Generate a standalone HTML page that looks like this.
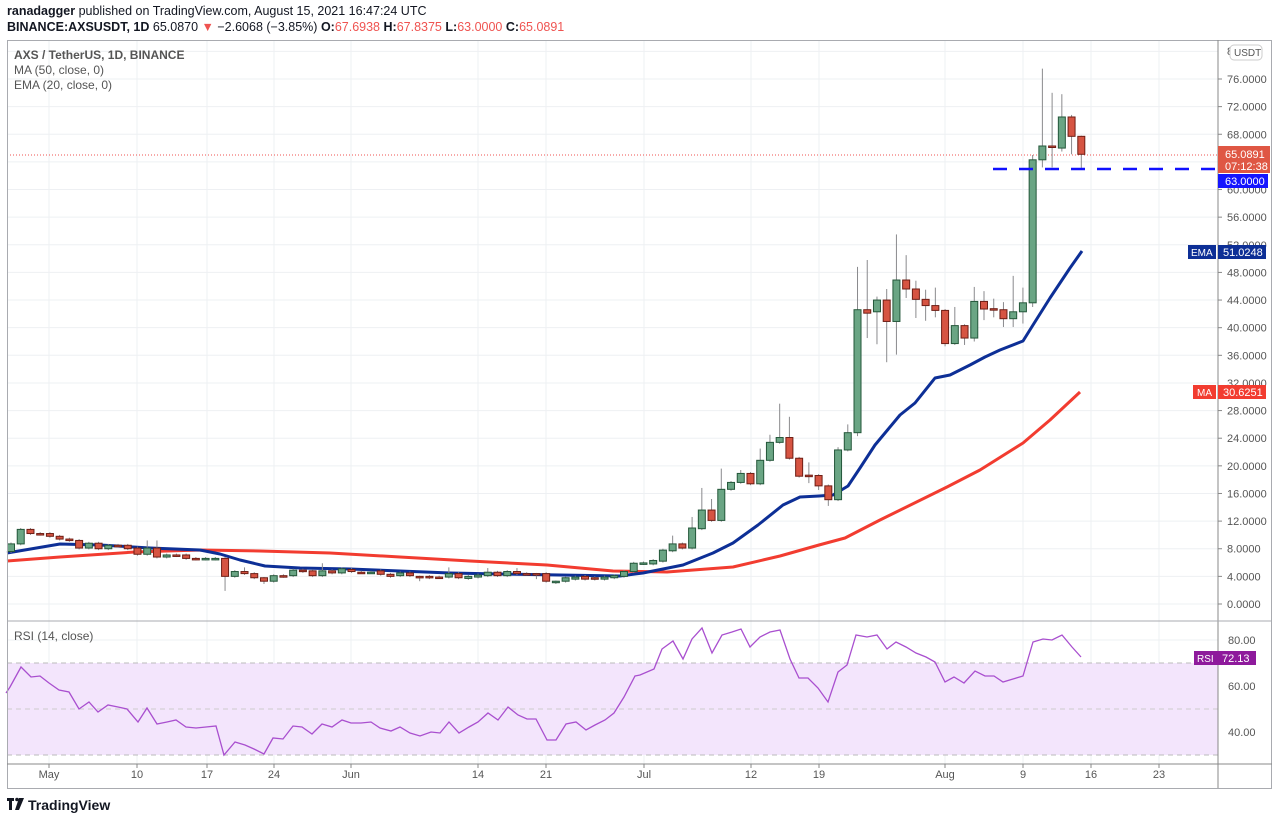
<!DOCTYPE html>
<html><head><meta charset="utf-8">
<style>
body{margin:0;background:#fff;width:1280px;height:822px;overflow:hidden;font-family:"Liberation Sans",sans-serif;}
.h1{position:absolute;left:7px;top:4px;font-size:12.5px;color:#131722;}
.h2{position:absolute;left:7px;top:20px;font-size:12.5px;color:#131722;}
svg{position:absolute;left:0;top:0;}
</style></head><body>
<div class="h1"><b>ranadagger</b> published on TradingView.com, August 15, 2021 16:47:24 UTC</div>
<div class="h2"><b>BINANCE:AXSUSDT, 1D</b> 65.0870 <span style="color:#ef5350">▼</span> −2.6068 (−3.85%) <b>O:</b><span style="color:#ef5350">67.6938</span> <b>H:</b><span style="color:#ef5350">67.8375</span> <b>L:</b><span style="color:#ef5350">63.0000</span> <b>C:</b><span style="color:#ef5350">65.0891</span></div>
<svg id="s" width="1280" height="822" xmlns="http://www.w3.org/2000/svg" font-family="Liberation Sans, sans-serif"></svg>
<script>
var S=document.getElementById('s'),h='';
function Y(p){return 604-6.908*p;}
function R(r){return 824-2.3*r;}
var vx=[49,137,207,274,351,478,546,644,751,819,945,1023,1091,1159];
vx.forEach(function(x){h+='<line x1="'+x+'" y1="40" x2="'+x+'" y2="764" stroke="#eef0f3" stroke-width="1"/>';});
for(var p=0;p<=80;p+=4){h+='<line x1="7" y1="'+Y(p)+'" x2="1218" y2="'+Y(p)+'" stroke="#eef0f3"/>';}
[40,60,80].forEach(function(r){h+='<line x1="7" y1="'+R(r)+'" x2="1218" y2="'+R(r)+'" stroke="#eef0f3"/>';});
h+='<rect x="7" y="663" width="1211" height="92" fill="#f3e5fc"/>';
h+='<line x1="7" y1="663" x2="1218" y2="663" stroke="#bbb" stroke-dasharray="5,4"/>';
h+='<line x1="7" y1="709" x2="1218" y2="709" stroke="#ccc" stroke-dasharray="5,4"/>';
h+='<line x1="7" y1="755" x2="1218" y2="755" stroke="#bbb" stroke-dasharray="5,4"/>';
h+='<line x1="7" y1="155" x2="1218" y2="155" stroke="#ef5350" stroke-dasharray="1,2"/>';
var ma=[[7,561],[60,557],[135,552],[200,550],[260,551],[330,553],[400,557],[470,561],[547,565],[613,571],[667,572],[733,567],[780,556],[819,545],[845,538],[880,520],[947,487],[980,470],[1023,443],[1050,420],[1080,392]];
var ema=[[7,553],[60,544],[100,545],[150,548],[200,550],[220,554],[240,560],[265,566],[300,568],[350,569],[400,571],[450,573],[500,574],[560,575],[620,576],[643,573],[683,565],[713,553],[733,543],[758,525],[783,505],[800,497],[819,496],[833,495],[848,486],[860,468],[875,445],[885,433],[900,415],[915,403],[935,378],[950,375],[970,365],[985,357],[1000,350],[1023,341],[1033,325],[1050,298],[1070,268],[1082,251]];
function pl(a){return a.map(function(q){return q[0]+','+q[1];}).join(' ');}
h+='<polyline points="'+pl(ma)+'" fill="none" stroke="#f23c30" stroke-width="3" stroke-linejoin="round"/>';
h+='<polyline points="'+pl(ema)+'" fill="none" stroke="#0d2f96" stroke-width="3" stroke-linejoin="round"/>';
var C=[[7.6,8.7],[8.7,10.8],[10.8,10.2],[10.2,10.1],[10.2,9.8],[9.8,9.4],[9.4,9.2],[9.2,8.1],[8.1,8.8],[8.8,8.0],[8.0,8.5],[8.5,8.4],[8.5,8.0],[8.1,7.2],[7.2,8.1,9.2],[8.1,6.8,9.2],[6.8,7.1],[7.1,7.0],[7.1,6.6],[6.6,6.5],[6.5,6.6],[6.5,6.6],[6.6,4.0,6.8,1.9],[4.0,4.7],[4.7,4.4,5.3],[4.4,3.8],[3.8,3.3,3.9,2.9],[3.3,4.1],[4.1,4.0],[4.1,4.9],[4.9,4.7],[4.8,4.1],[4.1,4.8,5.9],[4.8,4.5],[4.5,5.1],[5.0,4.7],[4.6,4.55],[4.55,4.6],[4.8,4.3],[4.3,4.0],
[4.1,4.5],[4.5,4.1],[4.0,3.8,4.1,3.3],[4.0,3.8],[3.9,3.85],[3.9,4.4,5.3],[4.4,3.8],[3.7,4.0],[3.9,4.2],[4.1,4.6,5.2],[4.6,4.1],[4.1,4.7],[4.7,4.4,5.2],[4.4,4.3],[4.4,4.3,4.5,3.6],[4.4,3.3],[3.3,3.3,3.4,2.9],[3.3,3.8],[3.6,3.9],[4.0,3.6],[3.8,3.6],[3.6,3.9],[3.8,4.1],[4.0,4.7],[4.7,5.9],[5.85,5.95],[5.8,6.3],[6.2,7.8],[7.7,8.7,9.9],[8.7,8.1],[8.1,11.0,12.6],[10.9,13.6,16.8],[13.6,12.1,15.2],[12.1,16.6,19.6],[16.6,17.6],[17.6,18.9,19.4],[18.9,17.4],[17.4,20.8,22.5],[20.8,23.4,24.5],[23.4,24.1,29.0],[24.1,21.1,27.1],[21.1,18.5],[18.65,18.55,20.5,17.5],[18.6,17.1,18.8,16.5],[17.1,15.1,17.3,14.2],[15.1,22.3,22.7],[22.3,24.8,26],[24.8,42.6,48.8,24.3],[42.6,42.1,49.8,38.5],[42.3,44.0,44.5,37.6],[44.0,40.9,45.6,35],[40.9,46.9,53.5,36.1],[46.9,45.6,50.5,44.3],[45.6,44.1,46.8,41.4],[44.1,43.2,45.5,41],[43.2,42.5,45.8,41.5],[42.5,37.7,42.7,37.3],[37.7,40.3,43,37.5],[40.3,38.5,40.5,37.5],[38.5,43.8,45.9,38],[43.8,42.7,45.3,41.1],[42.75,42.65,44.2,41.5],[42.6,41.3,43.7,40.1],[41.3,42.3,47.5,40.1],[42.3,43.6,45.8,40.6],[43.6,64.3,65,43],[64.3,66.3,77.5,63.2],[66.3,66.1,74,63.2],[66.0,70.5,73.8,65.5],[70.5,67.7,70.8,65.1],[67.7,65.1,67.8,63.0]];
C.forEach(function(c,i){
 var x=11+9.73*i,o=c[0],cl=c[1],hi=c[2]!==undefined?c[2]:Math.max(o,cl)+0.2,lo=c[3]!==undefined?c[3]:Math.min(o,cl)-0.2;
 var g=cl>=o;
 h+='<line x1="'+x+'" y1="'+Y(hi)+'" x2="'+x+'" y2="'+Y(lo)+'" stroke="#8a8a8d" stroke-width="1"/>';
 var t=Y(Math.max(o,cl)),b=Y(Math.min(o,cl));if(b-t<1.5){b=t+1.5;}
 h+='<rect x="'+(x-3.5)+'" y="'+t+'" width="7" height="'+(b-t)+'" fill="'+(g?'#6aa584':'#d65442')+'" stroke="'+(g?'#24573a':'#6e1e15')+'" stroke-width="1"/>';
});
h+='<line x1="993" y1="169" x2="1218" y2="169" stroke="#1010ff" stroke-width="2.5" stroke-dasharray="14,12"/>';
var rs=[[6,693],[10,687],[21,667],[31,677],[40,676],[49,683],[59,690],[69,692],[79,709],[89,702],[98,712],[108,705],[118,707],[127,709],[138,722],[147,708],[157,724],[167,722],[176,720],[186,727],[196,728],[206,727],[216,726],[224,755],[235,742],[245,745],[254,749],[264,754],[273,738],[283,739],[293,726],[302,727],[312,734],[322,724],[332,727],[342,720],[351,723],[361,723],[371,722],[380,728],[391,731],[400,727],[410,733],[420,736],[431,732],[440,733],[449,722],[459,733],[469,727],[478,722],[488,713],[498,720],[508,707],[518,715],[527,719],[536,719],[547,740],[556,740],[566,724],[576,722],[586,730],[595,725],[605,720],[614,713],[624,697],[635,676],[640,675],[654,669],[662,649],[673,641],[683,659],[692,639],[702,628],[712,653],[722,635],[732,632],[741,629],[750,647],[760,637],[770,632],[780,630],[790,659],[799,678],[808,678],[818,688],[828,702],[838,672],[847,665],[856,635],[867,637],[877,635],[887,649],[896,642],[906,647],[916,653],[926,657],[935,662],[945,682],[954,677],[964,683],[975,671],[985,676],[994,676],[1003,682],[1013,679],[1023,676],[1033,642],[1043,639],[1052,640],[1062,635],[1072,647],[1081,657]];
h+='<polyline points="'+pl(rs)+'" fill="none" stroke="#a94fcf" stroke-width="1.3"/>';
h+='<rect x="7.5" y="40.5" width="1264" height="748" fill="none" stroke="#a9abb0"/>';
h+='<line x1="1218" y1="40" x2="1218" y2="788" stroke="#888"/>';
h+='<line x1="7" y1="621" x2="1272" y2="621" stroke="#a9abb0"/>';
h+='<line x1="7" y1="764" x2="1272" y2="764" stroke="#888"/>';
for(var p=0;p<=76;p+=4){if(p==64||p==52||p==32)continue;h+='<text x="1227" y="'+(Y(p)+4)+'" font-size="11" fill="#555">'+p.toFixed(4)+'</text>';h+='<line x1="1218" y1="'+Y(p)+'" x2="1222" y2="'+Y(p)+'" stroke="#888"/>';}
h+='<text x="1227" y="'+(Y(52)+4)+'" font-size="11" fill="#555">52.0000</text>';
h+='<text x="1227" y="'+(Y(32)+4)+'" font-size="11" fill="#555">32.0000</text>';
h+='<text x="1227" y="55" font-size="11" fill="#555">8</text>';
h+='<rect x="1230" y="45" width="32" height="15" rx="4" fill="#fff" stroke="#ccc"/><text x="1234" y="56" font-size="10" fill="#555">USDT</text>';
h+='<rect x="1218" y="146" width="52" height="27" fill="#df5744"/><text x="1225" y="158" font-size="11" fill="#fff">65.0891</text><text x="1225" y="170" font-size="11" fill="#fff">07:12:38</text>';
h+='<rect x="1218" y="174" width="50" height="14" fill="#1515ff"/><text x="1225" y="185" font-size="11" fill="#fff">63.0000</text>';
h+='<rect x="1188" y="245" width="28" height="14" fill="#0d2f96"/><text x="1191" y="256" font-size="10" fill="#fff">EMA</text>';
h+='<rect x="1218" y="245" width="48" height="14" fill="#0d2f96"/><text x="1223" y="256" font-size="11" fill="#fff">51.0248</text>';
h+='<rect x="1193" y="385" width="23" height="14" fill="#f23c30"/><text x="1197" y="396" font-size="10" fill="#fff">MA</text>';
h+='<rect x="1218" y="385" width="48" height="14" fill="#f23c30"/><text x="1223" y="396" font-size="11" fill="#fff">30.6251</text>';
[[80,640],[60,686],[40,732]].forEach(function(q){h+='<text x="1228" y="'+(q[1]+4)+'" font-size="11" fill="#555">'+q[0]+'.00</text>';});
h+='<rect x="1194" y="651" width="24" height="14" fill="#8e1a9c"/><text x="1197" y="662" font-size="10" fill="#fff">RSI</text>';
h+='<rect x="1218" y="651" width="38" height="14" fill="#8e1a9c"/><text x="1222" y="662" font-size="11" fill="#fff">72.13</text>';
h+='<text x="14" y="59" font-size="12" fill="#555" font-weight="bold">AXS / TetherUS, 1D, BINANCE</text>';
h+='<text x="14" y="74" font-size="12" fill="#555">MA (50, close, 0)</text>';
h+='<text x="14" y="89" font-size="12" fill="#555">EMA (20, close, 0)</text>';
h+='<text x="14" y="640" font-size="12" fill="#555">RSI (14, close)</text>';
var dl=[['May',49],['10',137],['17',207],['24',274],['Jun',351],['14',478],['21',546],['Jul',644],['12',751],['19',819],['Aug',945],['9',1023],['16',1091],['23',1159]];
dl.forEach(function(d){h+='<text x="'+d[1]+'" y="778" font-size="11" fill="#555" text-anchor="middle">'+d[0]+'</text>';h+='<line x1="'+d[1]+'" y1="764" x2="'+d[1]+'" y2="768" stroke="#888"/>';});
h+='<rect x="7" y="798" width="7" height="3" fill="#131722"/><rect x="9" y="798" width="3" height="12" fill="#131722"/><circle cx="17" cy="799.5" r="1.8" fill="#131722"/><polygon points="19,798 24,798 19,810 15,810" fill="#131722"/>';
h+='<text x="28" y="810" font-size="14" font-weight="bold" fill="#131722">TradingView</text>';
S.innerHTML=h;
</script>
</body></html>
